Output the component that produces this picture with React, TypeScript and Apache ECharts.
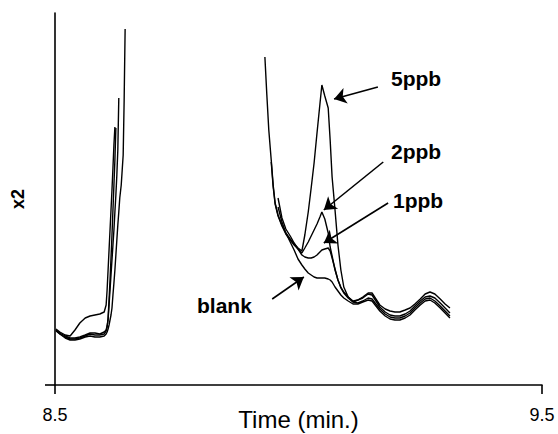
import React, { useEffect, useRef } from "react";
import * as echarts from "echarts";

// Time axis (minutes)
const xMin = 8.5;
const xMax = 9.5;
const xTickValues = [8.5, 9.5];

// Left cluster (rising edge of the preceding peak)
const leftTimes = [
  8.502, 8.51, 8.521, 8.531, 8.541, 8.551, 8.562, 8.572, 8.582, 8.592, 8.601,
  8.605, 8.607, 8.609, 8.611, 8.613, 8.615, 8.617, 8.619, 8.621, 8.623, 8.625,
  8.627, 8.629, 8.631, 8.633, 8.636, 8.638, 8.64, 8.642, 8.644,
];
const ppb5Left = [
  56, 53, 50, 49, 55, 62, 67, 69, 70, 71, 73, 80, 95, 115, 135, 155, 175, 195,
  217, 240, 258, null, null, null, null, null, null, null, null, null, null,
];
const ppb2Left = [
  55, 52, 49, 47, 47, 48, 50, 52, 52, 51, 53, 55, 59, 65, 80, 95, 110, 125, 140,
  155, 173, 190, 210, 235, 287, null, null, null, null, null, null,
];
const ppb1Left = [
  54, 51, 48, 46, 46, 47, 49, 51, 50, 50, 51, 54, 58, 67, 85, 105, 127, 150,
  175, 200, 225, 257, null, null, null, null, null, null, null, null, null,
];
const blankLeft = [
  55, 51, 47, 45, 45, 46, 48, 49, 48, 48, 49, 51, 53, 56, 60, 65, 70, 77, 90,
  102, 115, 130, 145, 160, 173, 187, 200, 215, 230, 285, 356,
];

// Right cluster (tail of the large peak, analyte peak, baseline)
const rightTimes = [
  8.931, 8.935, 8.939, 8.944, 8.948, 8.952, 8.958, 8.966, 8.974, 8.983, 8.991,
  8.999, 9.007, 9.013, 9.02, 9.026, 9.032, 9.038, 9.044, 9.048, 9.054, 9.061,
  9.065, 9.069, 9.075, 9.081, 9.087, 9.093, 9.102, 9.112, 9.122, 9.132, 9.143,
  9.151, 9.159, 9.167, 9.178, 9.188, 9.198, 9.208, 9.219, 9.229, 9.239, 9.25,
  9.26, 9.27, 9.28, 9.291, 9.301, 9.311,
];
const ppb5Right = [
  328, 290, 255, 225, 200, 182, 170, 160, 152, 146, 141, 137, 134, 150, 173,
  197, 222, 252, 281, 300, 289, 277, 245, 208, 175, 140, 115, 98, 88, 83, 85,
  88, 92, 92, 86, 80, 76, 74, 73, 73, 75, 77, 81, 86, 91, 93, 91, 86, 81, 77,
];
const ppb2Right = [
  null, null, null, 223, 198, 181, 169, 159, 151, 145, 140, 136, 132, 137, 143,
  149, 155, 161, 168, 173, 166, 152, 138, 129, 115, 105, 98, 93, 88, 84, 85, 87,
  91, 90, 84, 78, 73, 70, 69, 69, 71, 74, 79, 84, 88, 89, 87, 82, 77, 72,
];
const ppb1Right = [
  null, null, null, null, null, null, 187, 167, 156, 149, 142, 136, 130, 128,
  127, 127, 128, 130, 133, 135, 136, 137, 134, 127, 116, 105, 97, 92, 87, 83,
  82, 84, 87, 86, 81, 76, 71, 68, 67, 67, 69, 72, 77, 82, 86, 87, 84, 79, 74,
  69,
];
const blankRight = [
  null, null, null, null, null, null, 178, 163, 152, 143, 135, 126, 120, 116,
  112, 110, 108, 107, 107, 107, 107, 106, 105, 103, 98, 94, 90, 87, 84, 81, 81,
  83, 85, 84, 79, 74, 69, 66, 65, 65, 67, 70, 75, 80, 84, 85, 82, 77, 72, 67,
];

const traceNames = ["5ppb", "2ppb", "1ppb", "blank"];
const traceLeft = [ppb5Left, ppb2Left, ppb1Left, blankLeft];
const traceRight = [ppb5Right, ppb2Right, ppb1Right, blankRight];

// Annotation arrows (data coordinates): from label toward the trace
const arrowFrom = [
  [9.163, 298],
  [9.174, 223],
  [9.184, 182],
  [8.946, 86],
];
const arrowTo = [
  [9.073, 286],
  [9.052, 175],
  [9.052, 142],
  [9.011, 108],
];

const FONT = '"Liberation Sans", Arial, Helvetica, sans-serif';

function buildData(left: (number | null)[], right: (number | null)[]) {
  const out: (number | null)[][] = [];
  leftTimes.forEach((t, i) => out.push([t, left[i]]));
  out.push([(leftTimes[leftTimes.length - 1] + rightTimes[0]) / 2, null]);
  rightTimes.forEach((t, i) => out.push([t, right[i]]));
  return out;
}

export default function App() {
  const ref = useRef<HTMLDivElement>(null);
  useEffect(() => {
    if (!ref.current) return;
    const chart = echarts.init(ref.current, undefined, { renderer: "svg" });
    const series = traceNames.map((name, k) => ({
      name,
      type: "line",
      data: buildData(traceLeft[k], traceRight[k]),
      showSymbol: false,
      symbol: "none",
      connectNulls: false,
      lineStyle: { color: "#000", width: 1.4 },
      silent: true,
      markLine: {
        silent: true,
        symbol: ["none", "arrow"],
        symbolSize: 12,
        label: { show: false },
        lineStyle: { color: "#000", width: 1.6, type: "solid" },
        data: [
          [
            { coord: arrowFrom[k] },
            { coord: arrowTo[k] },
          ],
        ],
      },
    }));
    chart.setOption({
      animation: false,
      grid: {
        left: 55,
        right: 16,
        top: 13,
        bottom: 49,
        containLabel: false,
        outerBoundsMode: "none",
      },
      xAxis: {
        type: "value",
        min: xMin,
        max: xMax,
        name: "Time (min.)",
        nameLocation: "middle",
        nameGap: 34,
        nameMoveOverlap: false,
        nameTextStyle: {
          fontFamily: FONT,
          fontSize: 24,
          color: "#000",
          verticalAlign: "middle",
        },
        axisLine: { lineStyle: { color: "#000", width: 1.6 } },
        axisTick: {
          show: true,
          length: 9,
          customValues: xTickValues,
          lineStyle: { color: "#000", width: 1.6 },
        },
        axisLabel: {
          customValues: xTickValues,
          formatter: (v: number) => v.toFixed(1),
          fontFamily: FONT,
          fontSize: 18,
          color: "#000",
          margin: 21,
        },
        splitLine: { show: false },
      },
      yAxis: {
        type: "value",
        min: 0,
        max: 372,
        name: "x2",
        nameLocation: "middle",
        nameGap: 37,
        nameMoveOverlap: false,
        nameTextStyle: {
          fontFamily: FONT,
          fontSize: 18,
          fontWeight: "bold",
          color: "#000",
          verticalAlign: "middle",
        },
        axisLine: { show: true, lineStyle: { color: "#000", width: 1.6 } },
        axisTick: {
          show: true,
          length: 10,
          customValues: [0],
          lineStyle: { color: "#000", width: 1.6 },
        },
        axisLabel: { show: false },
        splitLine: { show: false },
      },
      graphic: [
        { type: "text", x: 391, y: 78, style: { text: "5ppb", font: `bold 21px ${FONT}`, fill: "#000", verticalAlign: "middle" } },
        { type: "text", x: 391, y: 151, style: { text: "2ppb", font: `bold 21px ${FONT}`, fill: "#000", verticalAlign: "middle" } },
        { type: "text", x: 393, y: 200, style: { text: "1ppb", font: `bold 21px ${FONT}`, fill: "#000", verticalAlign: "middle" } },
        { type: "text", x: 197, y: 305, style: { text: "blank", font: `bold 21px ${FONT}`, fill: "#000", verticalAlign: "middle" } },
      ],
      series,
    });
    return () => chart.dispose();
  }, []);
  return (
    <div
      ref={ref}
      style={{ position: "fixed", left: 0, top: 0, width: 558, height: 434, background: "#fff" }}
    />
  );
}
